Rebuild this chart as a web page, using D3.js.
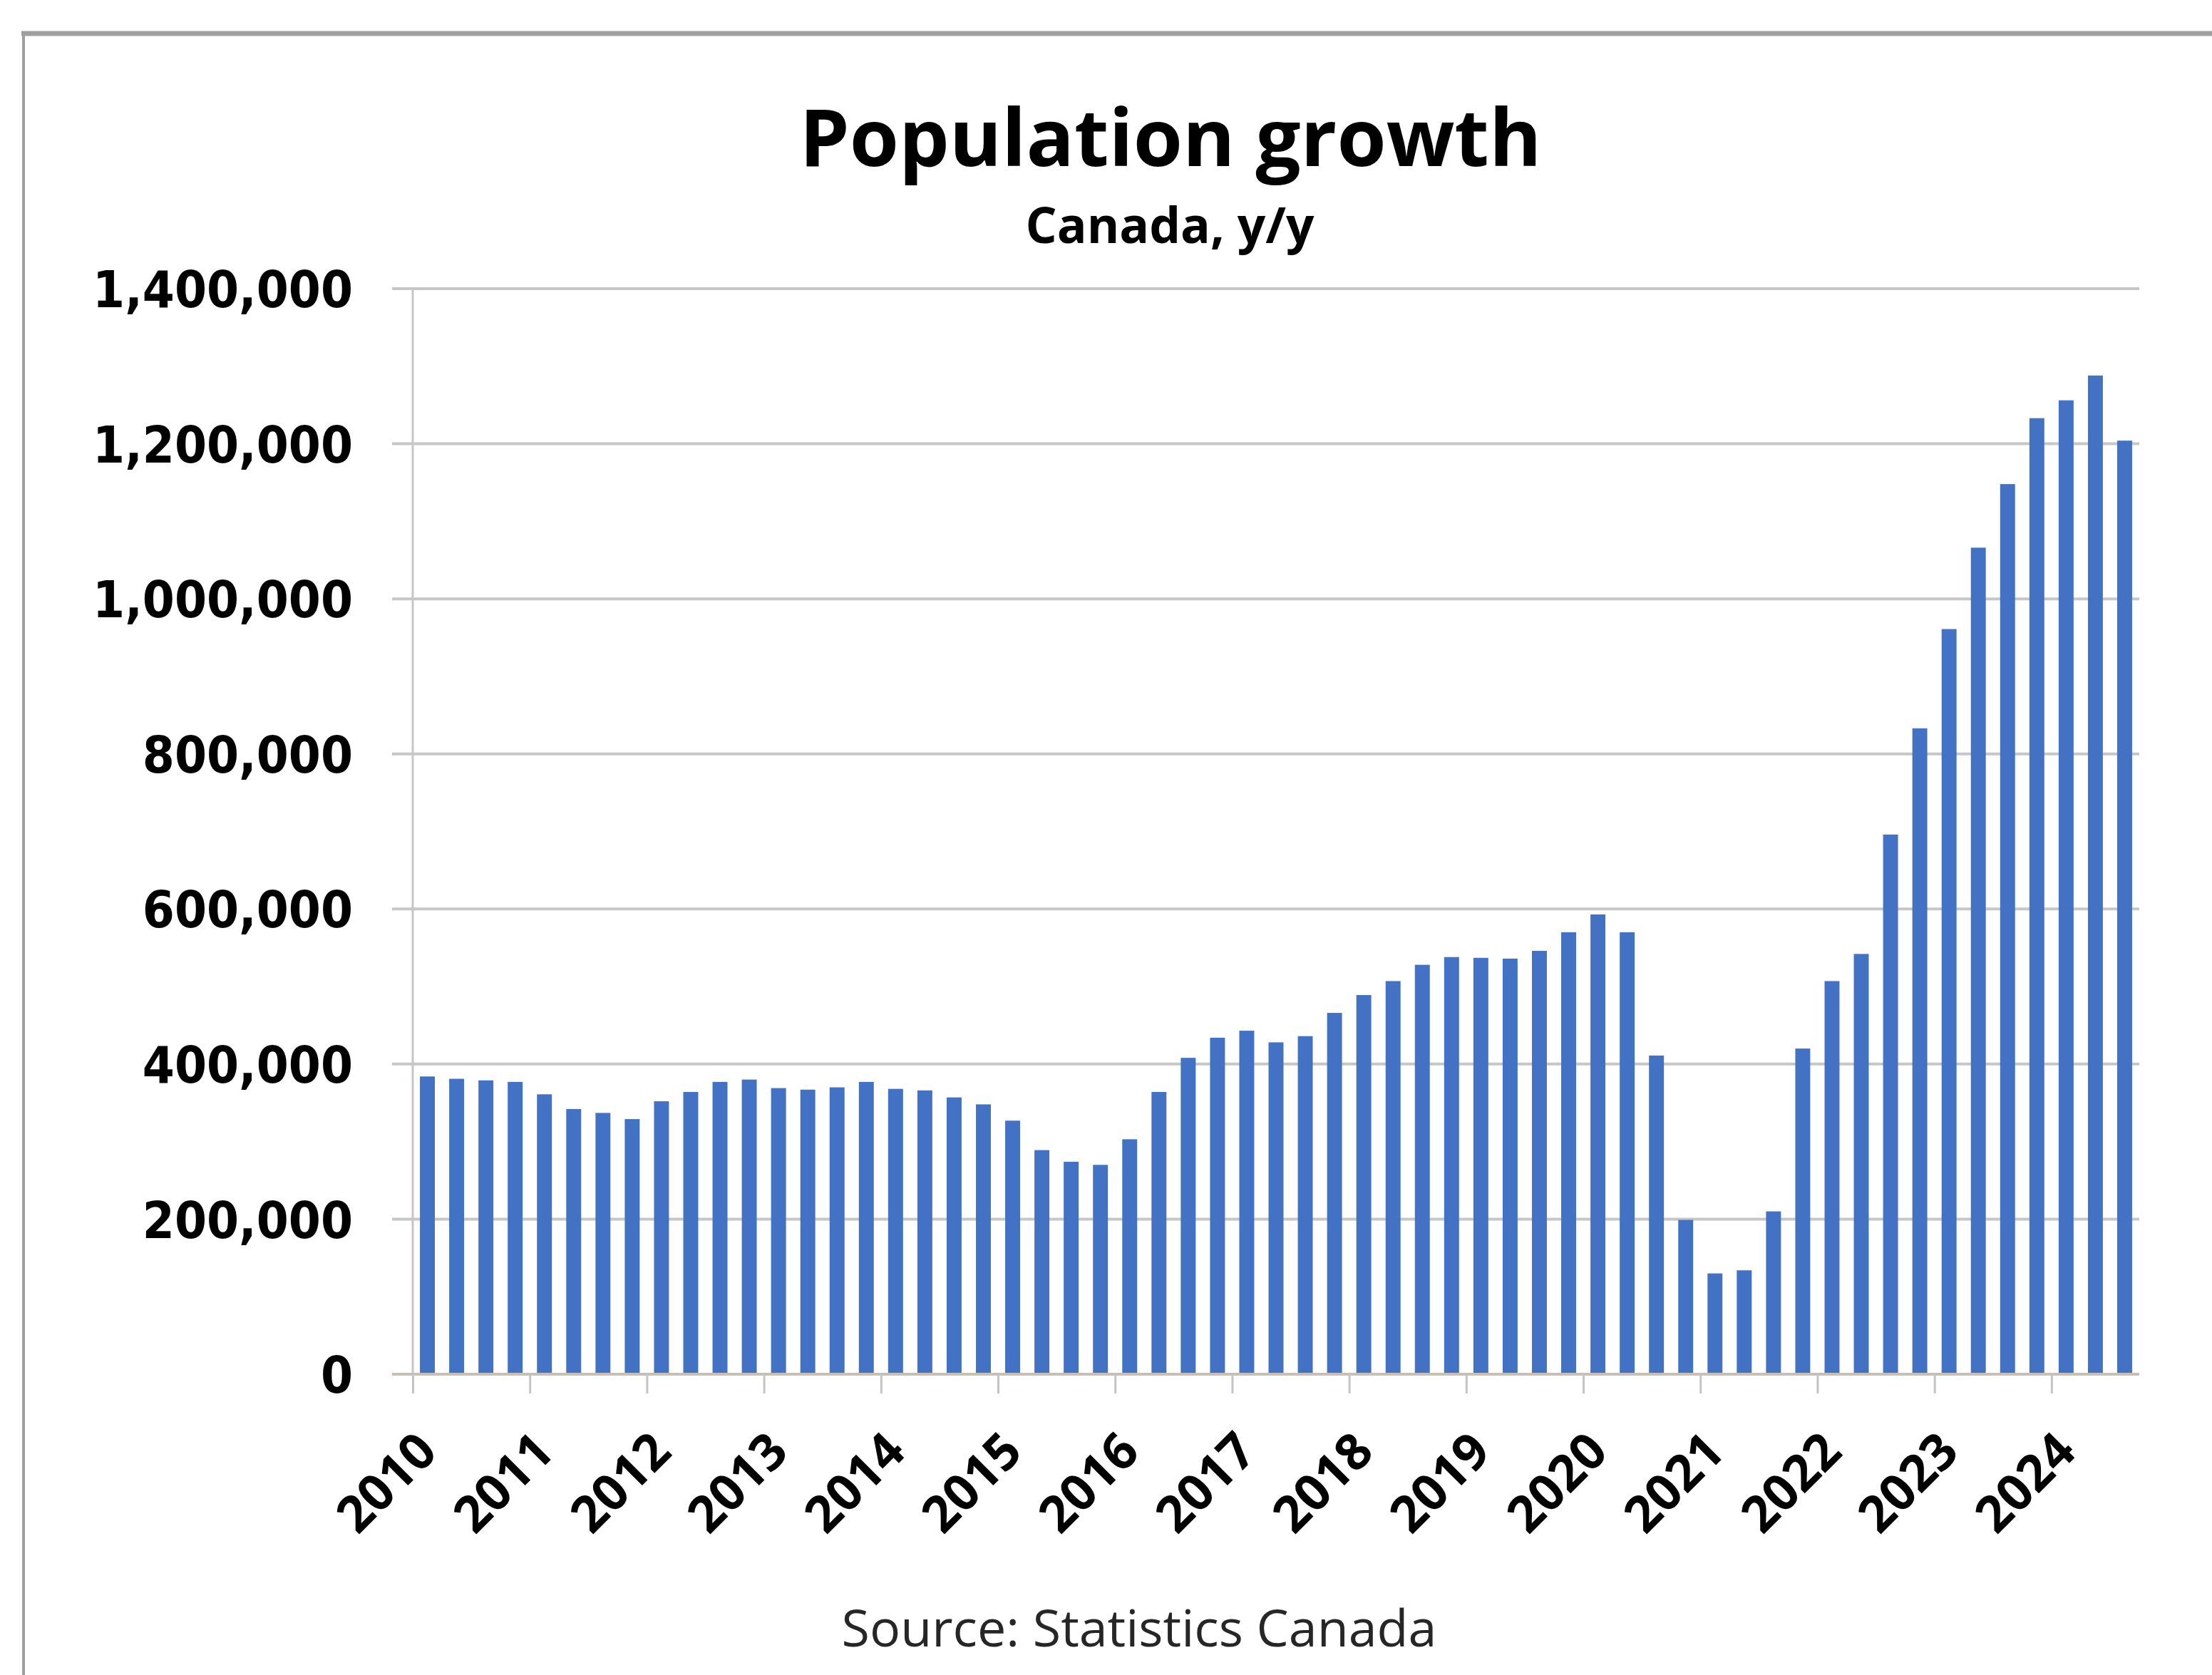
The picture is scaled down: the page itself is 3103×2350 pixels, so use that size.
<!DOCTYPE html>
<html>
<head>
<meta charset="utf-8">
<title>Population growth</title>
<script src="https://cdn.jsdelivr.net/npm/d3@7"></script>
<style>
  html, body { margin: 0; padding: 0; background: #ffffff; }
  svg { display: block; }
</style>
</head>
<body>
<svg id="chart" width="3103" height="2350"></svg>
<script>
// Quarterly year-over-year population growth, Canada
const quarters = [
  "2010Q1","2010Q2","2010Q3","2010Q4",
  "2011Q1","2011Q2","2011Q3","2011Q4",
  "2012Q1","2012Q2","2012Q3","2012Q4",
  "2013Q1","2013Q2","2013Q3","2013Q4",
  "2014Q1","2014Q2","2014Q3","2014Q4",
  "2015Q1","2015Q2","2015Q3","2015Q4",
  "2016Q1","2016Q2","2016Q3","2016Q4",
  "2017Q1","2017Q2","2017Q3","2017Q4",
  "2018Q1","2018Q2","2018Q3","2018Q4",
  "2019Q1","2019Q2","2019Q3","2019Q4",
  "2020Q1","2020Q2","2020Q3","2020Q4",
  "2021Q1","2021Q2","2021Q3","2021Q4",
  "2022Q1","2022Q2","2022Q3","2022Q4",
  "2023Q1","2023Q2","2023Q3","2023Q4",
  "2024Q1","2024Q2","2024Q3"
];

const growth = [
  384000, 381000, 379000, 377000,
  361000, 342000, 337000, 329000,
  352000, 364000, 377000, 380000,
  369000, 367000, 370000, 377000,
  368000, 366000, 357000, 348000,
  327000, 289000, 274000, 270000,
  303000, 364000, 408000, 434000,
  443000, 428000, 436000, 466000,
  489000, 507000, 528000, 538000,
  537000, 536000, 546000, 570000,
  593000, 570000, 411000, 199000,
  130000, 134000, 210000, 420000,
  507000, 542000, 696000, 833000,
  961000, 1066000, 1148000, 1233000,
  1256000, 1288000, 1204000
];

const yearLabels = ["2010","2011","2012","2013","2014","2015","2016","2017",
                    "2018","2019","2020","2021","2022","2023","2024"];

const yTicks = [0, 200000, 400000, 600000, 800000, 1000000, 1200000, 1400000];

const titleText = "Population growth";
const subtitleText = "Canada, y/y";
const sourceText = "Source: Statistics Canada";

// ---- layout ----
const plot = { left: 579, right: 3001, top: 405, bottom: 1928 };
const gridStart = 550;
const BAR = "#4372c5";
const GRID = "#c6c6c6";
const labelFont = "'Open Sans', 'Noto Sans', sans-serif";
const numberFont = "'DejaVu Sans', Verdana, sans-serif";

const svg = d3.select("#chart");

svg.append("rect").attr("width", 3103).attr("height", 2350).attr("fill", "#ffffff");

// outer frame (top and left edges)
svg.append("line")
  .attr("x1", 30).attr("x2", 3103).attr("y1", 47).attr("y2", 47)
  .attr("stroke", "#9f9f9f").attr("stroke-width", 7);
svg.append("line")
  .attr("x1", 33).attr("x2", 33).attr("y1", 44).attr("y2", 2350)
  .attr("stroke", "#9f9f9f").attr("stroke-width", 4);

// scales
const x = d3.scaleBand()
  .domain(quarters)
  .range([plot.left, plot.right])
  .paddingInner(0.49)
  .paddingOuter(0.245);

const y = d3.scaleLinear()
  .domain([0, 1400000])
  .range([plot.bottom, plot.top]);

// year boundaries expressed on a continuous scale covering the same span
const xYear = d3.scaleLinear()
  .domain([2010, 2010 + quarters.length / 4])
  .range([plot.left, plot.right]);

// horizontal gridlines
svg.append("g").attr("class", "grid")
  .selectAll("line")
  .data(yTicks.filter(d => d > 0))
  .join("line")
  .attr("x1", gridStart).attr("x2", plot.right)
  .attr("y1", d => y(d)).attr("y2", d => y(d))
  .attr("stroke", GRID).attr("stroke-width", 4);

// vertical axis line
svg.append("line")
  .attr("x1", plot.left).attr("x2", plot.left)
  .attr("y1", plot.top).attr("y2", plot.bottom)
  .attr("stroke", GRID).attr("stroke-width", 3);

// bars
svg.append("g").attr("class", "bars")
  .selectAll("rect")
  .data(quarters.map((q, i) => ({ q, v: growth[i] })))
  .join("rect")
  .attr("x", d => x(d.q))
  .attr("width", x.bandwidth())
  .attr("y", d => y(d.v))
  .attr("height", d => y(0) - y(d.v))
  .attr("fill", BAR);

// zero line and year ticks
const xAxis = d3.axisBottom(xYear)
  .tickValues(yearLabels.map(Number))
  .tickFormat(d3.format("d"))
  .tickSize(27)
  .tickSizeOuter(0);

const gx = svg.append("g")
  .attr("transform", `translate(0,${plot.bottom})`)
  .call(xAxis);

gx.select(".domain")
  .attr("d", `M${gridStart},0H${plot.right}`)
  .attr("stroke", "#c6bfb5").attr("stroke-width", 4);
gx.selectAll(".tick line")
  .attr("stroke", "#c4c4c4").attr("stroke-width", 3);
gx.selectAll(".tick text")
  .attr("x", 0).attr("y", 0).attr("dy", 0)
  .attr("transform", "translate(37,112) rotate(-45)")
  .attr("text-anchor", "end")
  .attr("fill", "#000")
  .style("font-family", labelFont)
  .style("font-weight", 700)
  .attr("font-size", 72);

// y-axis labels
const yAxis = d3.axisLeft(y)
  .tickValues(yTicks)
  .tickFormat(d3.format(","))
  .tickSize(0)
  .tickPadding(84);

const gy = svg.append("g")
  .attr("transform", `translate(${plot.left},0)`)
  .call(yAxis);
gy.select(".domain").remove();
gy.selectAll(".tick text")
  .attr("dy", "0.36em")
  .attr("fill", "#000")
  .style("font-family", numberFont)
  .style("font-weight", 700)
  .attr("font-size", 64);

// size a text element so its rendered length reaches a target width
function fitWidth(sel, target) {
  const node = sel.node();
  const w = node.getComputedTextLength();
  const fs = parseFloat(sel.attr("font-size"));
  return fs * target / w;
}

// keep y labels at the width of the widest value; the face is drawn slightly tall
const widest = gy.selectAll(".tick text").filter(d => d === 1400000);
const yFs = fitWidth(widest, 365);
gy.selectAll(".tick text")
  .attr("font-size", yFs)
  .attr("transform", "scale(1,1.1)");

const firstYear = gx.selectAll(".tick text").filter((d, i) => i === 0);
const xFs = fitWidth(firstYear, 162);
gx.selectAll(".tick text").attr("font-size", xFs);

// titles
const title = svg.append("text")
  .attr("x", 1642).attr("y", 233)
  .attr("text-anchor", "middle")
  .style("font-family", labelFont).style("font-weight", 700)
  .attr("font-size", 110).attr("fill", "#000")
  .text(titleText);
title.attr("font-size", fitWidth(title, 1041));

const subtitle = svg.append("text")
  .attr("x", 1641).attr("y", 341)
  .attr("text-anchor", "middle")
  .style("font-family", labelFont).style("font-weight", 700)
  .attr("font-size", 60).attr("fill", "#000")
  .text(subtitleText);
subtitle.attr("font-size", fitWidth(subtitle, 405));

const source = svg.append("text")
  .attr("x", 1598).attr("y", 2310)
  .attr("text-anchor", "middle")
  .style("font-family", labelFont).style("font-weight", 400)
  .attr("font-size", 68).attr("fill", "#262626")
  .text(sourceText);
source.attr("font-size", fitWidth(source, 835));
</script>
</body>
</html>
